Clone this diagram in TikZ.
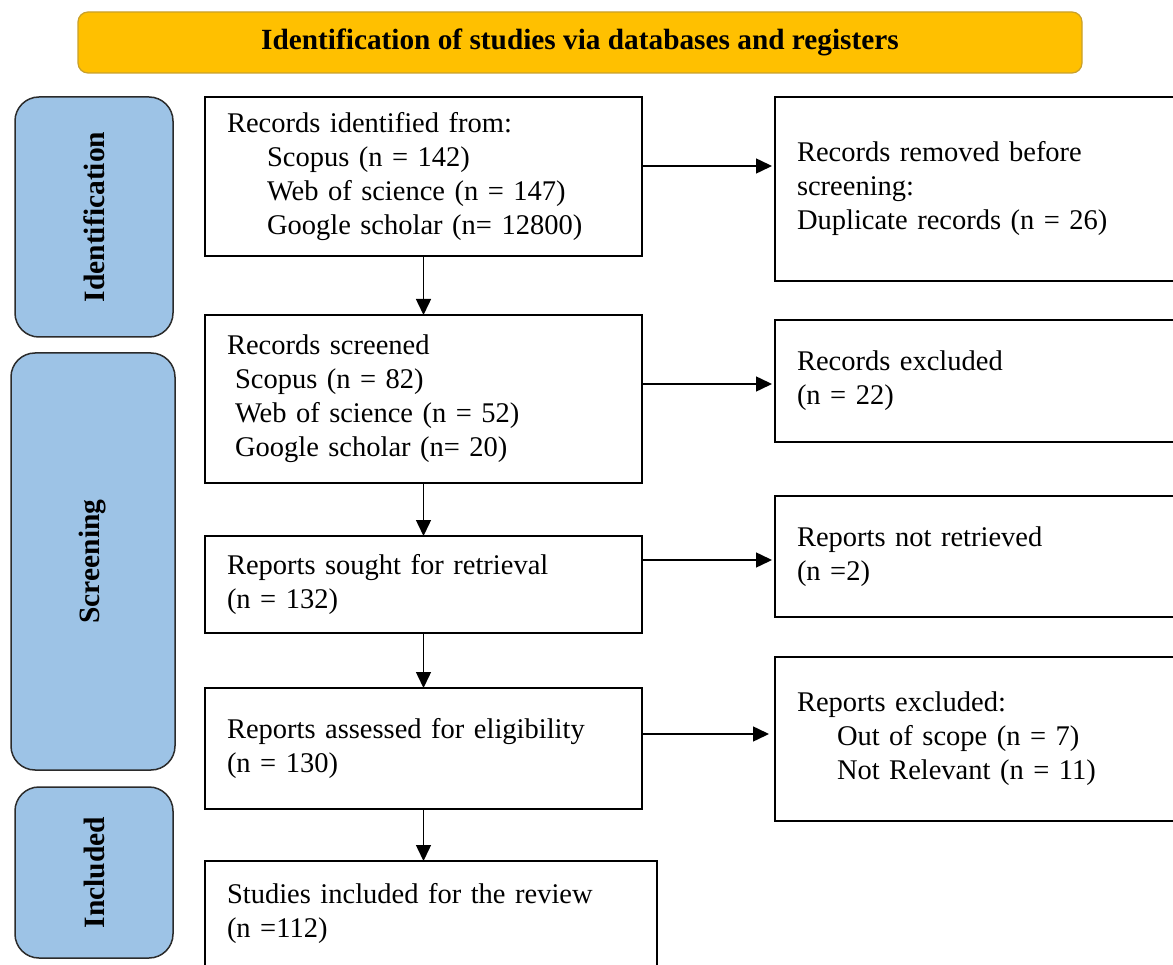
\documentclass[tikz,border=0pt]{standalone}
\usepackage{fontspec}
\setmainfont{Liberation Serif}
\usetikzlibrary{arrows.meta,calc}
\definecolor{hdrfill}{HTML}{FFC000}
\definecolor{hdrline}{HTML}{C9A02A}
\definecolor{sidefill}{HTML}{9DC3E6}
\definecolor{sideline}{HTML}{2B2B2B}
\begin{document}
\begin{tikzpicture}[x=1pt,y=-1pt,
  every node/.style={font=\fontsize{28.5}{34}\selectfont, outer sep=0pt},
  flowbox/.style={draw=black, line width=1.5pt, fill=white, align=left, inner xsep=22pt, inner ysep=0pt},
  sidebox/.style={draw=sideline, line width=1.5pt, fill=sidefill, rounded corners=24pt, rotate=90, font=\fontsize{29.5}{34}\selectfont\bfseries},
  hdrbox/.style={draw=hdrline, line width=1.2pt, fill=hdrfill, rounded corners=10pt, font=\fontsize{29.3}{34}\selectfont\bfseries},
  arr/.style={line width=1.5pt, -{Triangle[length=16pt,width=15pt]}}
]
\useasboundingbox (0,0) rectangle (1173,965);
\clip (0,0) rectangle (1173,965);

% header
\node[hdrbox, minimum width=1004pt, minimum height=61pt] (hdr) at (580,42.5) {Identification of studies via databases and registers};

% side boxes
\node[sidebox, minimum width=240pt, minimum height=158pt] (sid) at (94,217) {Identification};
\node[sidebox, minimum width=417pt, minimum height=164pt] (sscr) at (93,561.5) {Screening};
\node[sidebox, minimum width=171pt, minimum height=158pt] (sinc) at (94,872.5) {Included};

% main column
\node[flowbox, text width=393pt, minimum height=159pt] (b1) at (423.5,176.5) {Records identified from:\\
\hspace*{40pt}Scopus (n = 142)\\
\hspace*{40pt}Web of science (n = 147)\\
\hspace*{40pt}Google scholar (n= 12800)};
\node[flowbox, text width=393pt, minimum height=168pt] (b2) at (423.5,399) {Records screened\\
\hspace*{8pt}Scopus (n = 82)\\
\hspace*{8pt}Web of science (n = 52)\\
\hspace*{8pt}Google scholar (n= 20)};
\node[flowbox, text width=393pt, minimum height=97pt] (b3) at (423.5,584.5) {Reports sought for retrieval\\(n = 132)};
\node[flowbox, text width=393pt, minimum height=121pt] (b4) at (423.5,748.5) {Reports assessed for eligibility\\(n = 130)};
\node[flowbox, text width=408pt, minimum height=105pt] (b5) at (431,913.5) {Studies included for the review\\(n =112)};

% right column
\node[flowbox, text width=376pt, minimum height=184pt] (r1) at (985,189) {Records removed before\\screening:\\Duplicate records (n = 26)};
\node[flowbox, text width=376pt, minimum height=122pt] (r2) at (985,381) {Records excluded\\(n = 22)};
\node[flowbox, text width=376pt, minimum height=121pt] (r3) at (985,556.5) {Reports not retrieved\\(n =2)};
\node[flowbox, text width=376pt, minimum height=164pt] (r4) at (985,739) {Reports excluded:\\
\hspace*{40pt}Out of scope (n = 7)\\
\hspace*{40pt}Not Relevant (n = 11)};

% vertical connectors
\draw[arr] (b1.south) -- (b2.north);
\draw[arr] (b2.south) -- (b3.north);
\draw[arr] (b3.south) -- (b4.north);
\draw[arr] (b4.south) -- (b4.south |- b5.north);

% horizontal connectors
\draw[arr, shorten >=3pt] ([yshift=10.5pt]b1.east) -- ([yshift=10.5pt]b1.east -| r1.west);
\draw[arr, shorten >=3pt] ([yshift=15pt]b2.east) -- ([yshift=15pt]b2.east -| r2.west);
\draw[arr, shorten >=3pt] ([yshift=24.5pt]b3.east) -- ([yshift=24.5pt]b3.east -| r3.west);
\draw[arr, shorten >=6pt] ([yshift=14.5pt]b4.east) -- ([yshift=14.5pt]b4.east -| r4.west);
\end{tikzpicture}
\end{document}
